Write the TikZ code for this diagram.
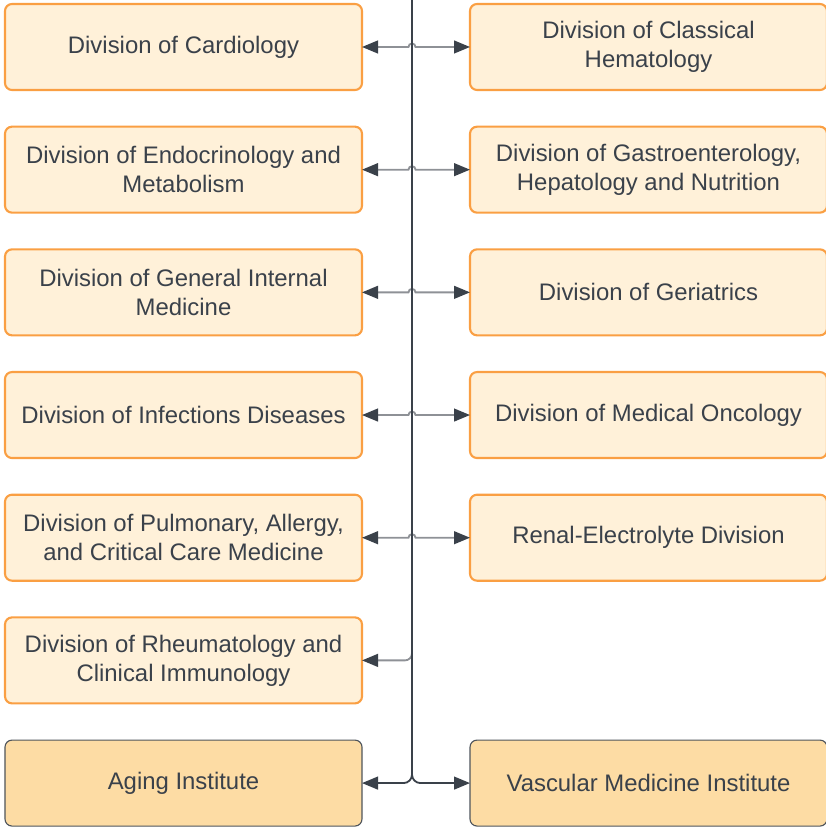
\documentclass[tikz,border=0pt]{standalone}
\usepackage{fontspec}
\setmainfont{Liberation Sans}
\usetikzlibrary{positioning, arrows.meta}
\definecolor{ink}{HTML}{3A414A}
\definecolor{wire}{HTML}{8E9196}
\definecolor{divfill}{HTML}{FFF1D9}
\definecolor{divline}{HTML}{FA9F43}
\definecolor{instfill}{HTML}{FDDCA4}
\definecolor{instline}{HTML}{4F555C}

\begin{document}
\begin{tikzpicture}[
	>={Triangle[length=0.4cm, width=0.32cm, color=ink]},
	division/.style={draw=divline, fill=divfill, line width=1.5pt, rounded corners=5pt, minimum width=8.925cm, minimum height=2.15cm, inner sep=0pt, outer sep=0pt, align=center, text=ink, font=\fontsize{17}{20.6}\selectfont},
	institute/.style={division, draw=instline, fill=instfill, line width=0.8pt},
	link/.style={wire, line width=1.3pt},
	trunk/.style={ink, line width=1.3pt}
	]
	\useasboundingbox (0,0) rectangle (20.625,20.675);
	\coordinate (top) at (10.3,20.8);

	\node [division] (cardio) at (4.5875,19.5) {Division of Cardiology};
	\node [division, below=0.917cm of cardio] (endo) {Division of Endocrinology and\\Metabolism};
	\node [division, below=0.917cm of endo] (general) {Division of General Internal\\Medicine};
	\node [division, below=0.917cm of general] (infect) {Division of Infections Diseases};
	\node [division, below=0.917cm of infect] (pulm) {Division of Pulmonary, Allergy,\\and Critical Care Medicine};
	\node [division, below=0.917cm of pulm] (rheum) {Division of Rheumatology and\\Clinical Immunology};
	\node [institute, below=0.917cm of rheum] (aging) {Aging Institute};

	\node [division, right=2.7cm of cardio] (hema) {Division of Classical\\Hematology};
	\node [division, right=2.7cm of endo] (gastro) {Division of Gastroenterology,\\Hepatology and Nutrition};
	\node [division, right=2.7cm of general] (geri) {Division of Geriatrics};
	\node [division, right=2.7cm of infect] (onco) {Division of Medical Oncology};
	\node [division, right=2.7cm of pulm] (renal) {Renal-Electrolyte Division};
	\node [institute, right=2.7cm of aging] (vascular) {Vascular Medicine Institute};

	\foreach \l/\r in {cardio/hema, endo/gastro, general/geri, infect/onco, pulm/renal}
		\draw [link, <->] (\l.east) -- ([xshift=-2.5pt]top |- \l.east) arc (180:0:2.5pt) -- (\r.west);
	\draw [link, ->, rounded corners=5pt] ([yshift=0.4cm]top |- rheum.east) |- (rheum.east);

	\draw [trunk, ->, rounded corners=6pt] (top) |- (aging.east);
	\draw [trunk, ->, rounded corners=6pt] (top) |- (vascular.west);
\end{tikzpicture}
\end{document}
